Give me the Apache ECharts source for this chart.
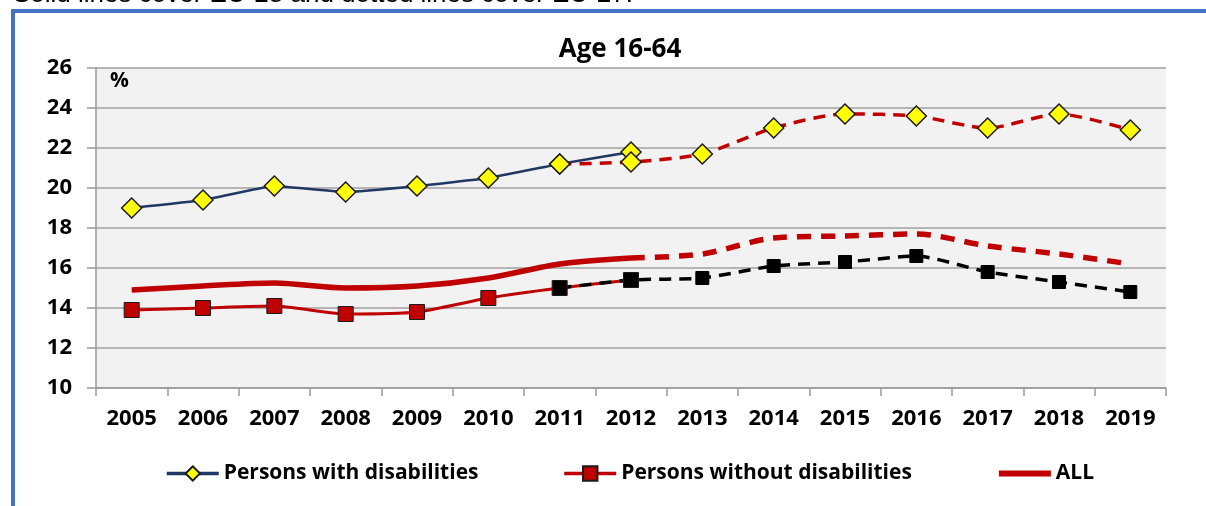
<!DOCTYPE html>
<html>
<head>
<meta charset="utf-8">
<script src="https://cdn.jsdelivr.net/npm/echarts@6/dist/echarts.min.js"></script>
<style>
html,body{margin:0;padding:0;background:#fff;}
#chart{width:1206px;height:506px;}
</style>
</head>
<body>
<div id="chart"></div>
<script>
const years = ['2005','2006','2007','2008','2009','2010','2011','2012','2013','2014','2015','2016','2017','2018','2019'];
const yTicks = [10, 26, 2]; // min, max, interval
// EU-28 (solid lines)
const withDisEU28    = [19.0, 19.4, 20.1, 19.8, 20.1, 20.5, 21.2, 21.8, null, null, null, null, null, null, null];
const withoutDisEU28 = [13.9, 14.0, 14.1, 13.7, 13.8, 14.5, 15.0, 15.4, null, null, null, null, null, null, null];
const allEU28        = [14.9, 15.1, 15.25, 15.0, 15.1, 15.5, 16.2, 16.5, null, null, null, null, null, null, null];
// EU-27 (dotted lines)
const withDisEU27    = [null, null, null, null, null, null, 21.2, 21.3, 21.7, 23.0, 23.7, 23.6, 23.0, 23.7, 22.9];
const withoutDisEU27 = [null, null, null, null, null, null, 15.0, 15.4, 15.5, 16.1, 16.3, 16.6, 15.8, 15.3, 14.8];
const allEU27        = [null, null, null, null, null, null, null, 16.5, 16.7, 17.5, 17.6, 17.7, 17.1, 16.7, 16.2];
const legendNames = ['Persons with disabilities', 'Persons without disabilities', 'ALL'];
const titleText = 'Age 16-64';
const noteText = 'Solid lines cover EU-28 and dotted lines cover EU-27.';

const FONT = '"Open Sans", sans-serif';
const RED = '#C00000';
const NAVY = '#1F3864';

const chart = echarts.init(document.getElementById('chart'), null, {renderer: 'canvas'});
const diamond = {color: '#FFFF00', borderColor: '#1a1a1a', borderWidth: 1.5};

chart.setOption({
  backgroundColor: '#fff',
  animation: false,
  title: {
    text: titleText, left: 615, top: 32, textAlign: 'center',
    textStyle: {fontFamily: FONT, fontWeight: 'bold', fontSize: 26, color: '#000'}
  },
  grid: {left: 96, right: 40, top: 68, bottom: 118, show: true, backgroundColor: '#F2F2F2', borderWidth: 0},
  legend: {
    data: [
      {name: legendNames[0], lineStyle: {width: 3.5}},
      {name: legendNames[1], lineStyle: {width: 3.5}},
      {name: legendNames[2], itemStyle: {opacity: 0}, lineStyle: {width: 6}}
    ],
    left: 160, top: 458, itemWidth: 52, itemHeight: 18, itemGap: 84,
    textStyle: {fontFamily: FONT, fontWeight: 'bold', fontSize: 21, color: '#000'}
  },
  xAxis: {
    type: 'category', data: years, boundaryGap: true,
    axisLine: {lineStyle: {color: '#9a9a9a', width: 1.5}},
    axisTick: {show: true, length: 8, interval: 0, lineStyle: {color: '#9a9a9a', width: 1.5}},
    axisLabel: {margin: 20, interval: 0, fontFamily: FONT, fontWeight: 'bold', fontSize: 22, color: '#000'},
    splitLine: {show: false}
  },
  yAxis: {
    type: 'value', min: yTicks[0], max: yTicks[1], interval: yTicks[2],
    axisLine: {show: true, lineStyle: {color: '#9a9a9a', width: 1.5}},
    axisTick: {show: true, length: 9, lineStyle: {color: '#9a9a9a', width: 1.5}},
    axisLabel: {margin: 24, fontFamily: FONT, fontWeight: 'bold', fontSize: 22, color: '#000'},
    splitLine: {lineStyle: {color: '#a0a0a0', width: 1.5}}
  },
  graphic: [
    {type: 'text', left: 110, top: 71, style: {text: '%', font: 'bold 21px "Open Sans", sans-serif', fill: '#000'}},
    {type: 'text', x: 13, y: -5, style: {text: noteText, font: '26px "Liberation Sans", Arial, sans-serif', fill: '#000', verticalAlign: 'middle'}},
    {type: 'rect', shape: {x: 11, y: 9, width: 1200, height: 4}, style: {fill: '#4472C4'}},
    {type: 'rect', shape: {x: 11, y: 9, width: 4, height: 500}, style: {fill: '#4472C4'}}
  ],
  series: [
    {name: 'ALL', type: 'line', data: allEU28, symbol: 'none', smooth: 0.3, z: 2,
     lineStyle: {color: RED, width: 5.5}, itemStyle: {color: RED}},
    {name: 'ALL (EU-27)', type: 'line', data: allEU27, symbol: 'none', smooth: 0.3, z: 2,
     lineStyle: {color: RED, width: 5.5, type: [14, 10]}, itemStyle: {color: RED}},
    {name: 'Persons with disabilities', type: 'line', data: withDisEU28, symbol: 'diamond', symbolSize: 20, smooth: 0.1, z: 3,
     lineStyle: {color: NAVY, width: 2.5}, itemStyle: diamond},
    {name: 'Persons with disabilities (EU-27)', type: 'line', data: withDisEU27, symbol: 'diamond', symbolSize: 20, smooth: 0.25, z: 3,
     lineStyle: {color: RED, width: 3.5, type: [12, 8]}, itemStyle: diamond},
    {name: 'Persons without disabilities', type: 'line', data: withoutDisEU28, symbol: 'rect', symbolSize: 15, smooth: 0.2, z: 3,
     lineStyle: {color: RED, width: 3}, itemStyle: {color: RED, borderColor: '#1a1a1a', borderWidth: 1}},
    {name: 'Persons without disabilities (EU-27)', type: 'line', data: withoutDisEU27, symbol: 'rect', symbolSize: 13, smooth: 0.2, z: 3,
     lineStyle: {color: '#000', width: 3.5, type: [12, 8]}, itemStyle: {color: '#000', borderColor: '#000', borderWidth: 1}}
  ]
});
</script>
</body>
</html>
